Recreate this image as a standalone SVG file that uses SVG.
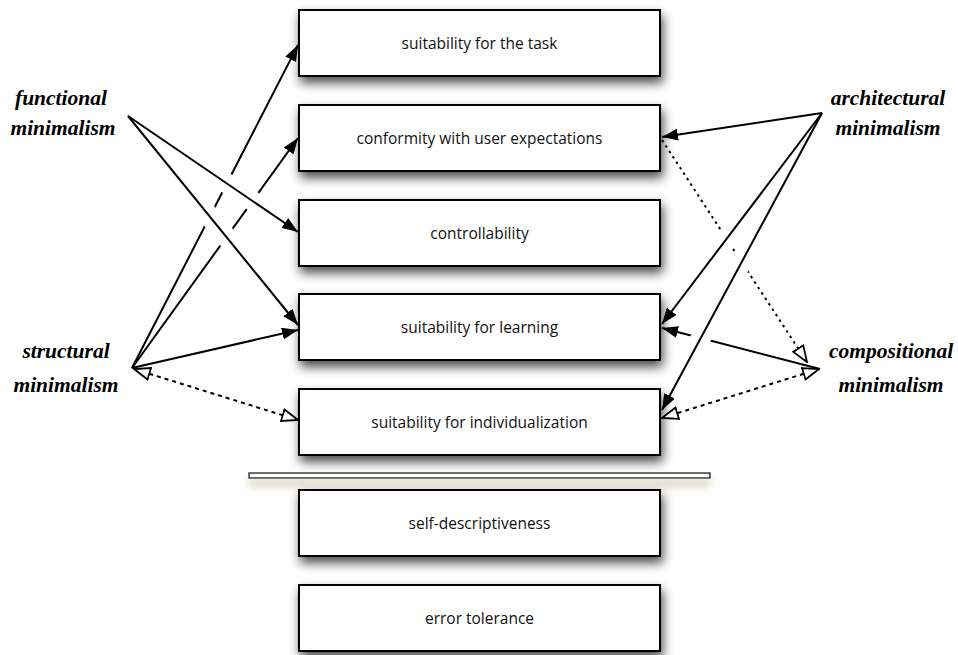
<svg xmlns="http://www.w3.org/2000/svg" width="958" height="655" viewBox="0 0 958 655">
  <style>
    .box { fill: #ffffff; stroke: #000000; stroke-width: 2; filter: url(#boxShadow); }
    .boxText { font-family: "Open Sans", "Liberation Sans", sans-serif; font-size: 15.5px; fill: #111111; text-anchor: middle; }
    .label { font-family: "Liberation Serif", serif; font-style: italic; font-weight: bold; font-size: 21.5px; fill: #000000; text-anchor: middle; }
    .solid { fill: none; stroke: #000000; stroke-width: 2; }
    .dotted { fill: none; stroke: #000000; stroke-width: 2; stroke-dasharray: 2.5 4; }
    .dashed { fill: none; stroke: #000000; stroke-width: 2; stroke-dasharray: 4 4; }
  </style>
  <defs>
    <filter id="boxShadow" x="-10%" y="-30%" width="125%" height="170%">
      <feDropShadow dx="2" dy="6" stdDeviation="5.5" flood-color="#000000" flood-opacity="0.7"/>
    </filter>
    <filter id="barShadow" x="-5%" y="-300%" width="110%" height="900%">
      <feDropShadow dx="0" dy="7" stdDeviation="5" flood-color="#b5b08a" flood-opacity="0.7"/>
    </filter>
    <marker id="arrowFilled" viewBox="0 0 16 12" refX="16" refY="6" markerWidth="16" markerHeight="12" markerUnits="userSpaceOnUse" orient="auto-start-reverse">
      <path d="M0,0 L16,6 L0,12 Z" fill="#000000"/>
    </marker>
    <marker id="arrowOpen" viewBox="-1 -1 18 14" refX="16" refY="6" markerWidth="18" markerHeight="14" markerUnits="userSpaceOnUse" orient="auto-start-reverse">
      <path d="M0,0 L16,6 L0,12 Z" fill="#ffffff" stroke="#000000" stroke-width="1.8" stroke-linejoin="miter"/>
    </marker>
    <!-- line hops: lower connectors are broken where upper connectors pass over them -->
    <mask id="hops" maskUnits="userSpaceOnUse" x="0" y="0" width="958" height="655">
      <rect x="0" y="0" width="958" height="655" fill="#ffffff"/>
      <g stroke="#000000" stroke-width="20" fill="none">
        <line x1="216.9" y1="176.6" x2="236.8" y2="190.2"/>
        <line x1="242.6" y1="194.2" x2="262.4" y2="207.8"/>
        <line x1="202.2" y1="207.3" x2="217.4" y2="225.9"/>
        <line x1="218.9" y1="227.8" x2="234.1" y2="246.4"/>
        <line x1="733.8" y1="229.4" x2="719.2" y2="248.6"/>
        <line x1="747.3" y1="251.6" x2="735.9" y2="272.8"/>
        <line x1="706.5" y1="327.5" x2="695.1" y2="348.7"/>
      </g>
    </mask>
  </defs>

  <!-- sub-characteristic boxes -->
  <g id="node-task">
    <rect class="box" x="299" y="10" width="361" height="66"/>
    <text class="boxText" x="479.5" y="48.5">suitability for the task</text>
  </g>
  <g id="node-conformity">
    <rect class="box" x="299" y="105" width="361" height="66"/>
    <text class="boxText" x="479.5" y="143.5">conformity with user expectations</text>
  </g>
  <g id="node-controllability">
    <rect class="box" x="299" y="200" width="361" height="66"/>
    <text class="boxText" x="479.5" y="238.5">controllability</text>
  </g>
  <g id="node-learning">
    <rect class="box" x="299" y="294" width="361" height="66"/>
    <text class="boxText" x="479.5" y="332.5">suitability for learning</text>
  </g>
  <g id="node-individualization">
    <rect class="box" x="299" y="389" width="361" height="66"/>
    <text class="boxText" x="479.5" y="427.5">suitability for individualization</text>
  </g>

  <!-- separator bar -->
  <g id="separator">
    <rect x="249" y="473" width="461" height="5" fill="#ffffff" stroke="#000000" stroke-width="1.2" filter="url(#barShadow)"/>
  </g>

  <g id="node-self-descriptiveness">
    <rect class="box" x="299" y="490" width="361" height="66"/>
    <text class="boxText" x="479.5" y="528.5">self-descriptiveness</text>
  </g>
  <g id="node-error-tolerance">
    <rect class="box" x="299" y="585" width="361" height="66"/>
    <text class="boxText" x="479.5" y="623.5">error tolerance</text>
  </g>

  <!-- minimalism kinds -->
  <g id="node-functional">
    <text class="label" x="61" y="105">functional</text>
    <text class="label" x="63" y="135">minimalism</text>
  </g>
  <g id="node-structural">
    <text class="label" x="66" y="358">structural</text>
    <text class="label" x="66" y="392">minimalism</text>
  </g>
  <g id="node-architectural">
    <text class="label" x="888" y="105">architectural</text>
    <text class="label" x="888" y="135">minimalism</text>
  </g>
  <g id="node-compositional">
    <text class="label" x="891" y="358">compositional</text>
    <text class="label" x="891" y="392">minimalism</text>
  </g>

  <!-- connectors -->
  <g id="connectors">
    <g mask="url(#hops)">
      <!-- structural minimalism -->
      <line class="solid" x1="132" y1="368" x2="298" y2="45" marker-end="url(#arrowFilled)"/>
      <line class="solid" x1="132" y1="368" x2="298" y2="138" marker-end="url(#arrowFilled)"/>
      <!-- dependencies toward compositional minimalism -->
      <line class="dotted" x1="662" y1="140" x2="807" y2="362" marker-end="url(#arrowOpen)"/>
      <line class="solid" x1="820" y1="369" x2="662" y2="328" marker-end="url(#arrowFilled)"/>
    </g>
    <line class="solid" x1="132" y1="368" x2="298" y2="330" marker-end="url(#arrowFilled)"/>
    <line class="dashed" x1="134" y1="369" x2="298" y2="420" marker-start="url(#arrowOpen)" marker-end="url(#arrowOpen)"/>
    <line class="dashed" x1="819" y1="369" x2="662" y2="418" marker-start="url(#arrowOpen)" marker-end="url(#arrowOpen)"/>

    <!-- functional minimalism -->
    <line class="solid" x1="128" y1="116" x2="298" y2="232" marker-end="url(#arrowFilled)"/>
    <line class="solid" x1="128" y1="116" x2="298" y2="325" marker-end="url(#arrowFilled)"/>

    <!-- architectural minimalism -->
    <line class="solid" x1="822" y1="113" x2="662" y2="137" marker-end="url(#arrowFilled)"/>
    <line class="solid" x1="822" y1="113" x2="662" y2="324" marker-end="url(#arrowFilled)"/>
    <line class="solid" x1="822" y1="113" x2="662" y2="410" marker-end="url(#arrowFilled)"/>
  </g>
</svg>
